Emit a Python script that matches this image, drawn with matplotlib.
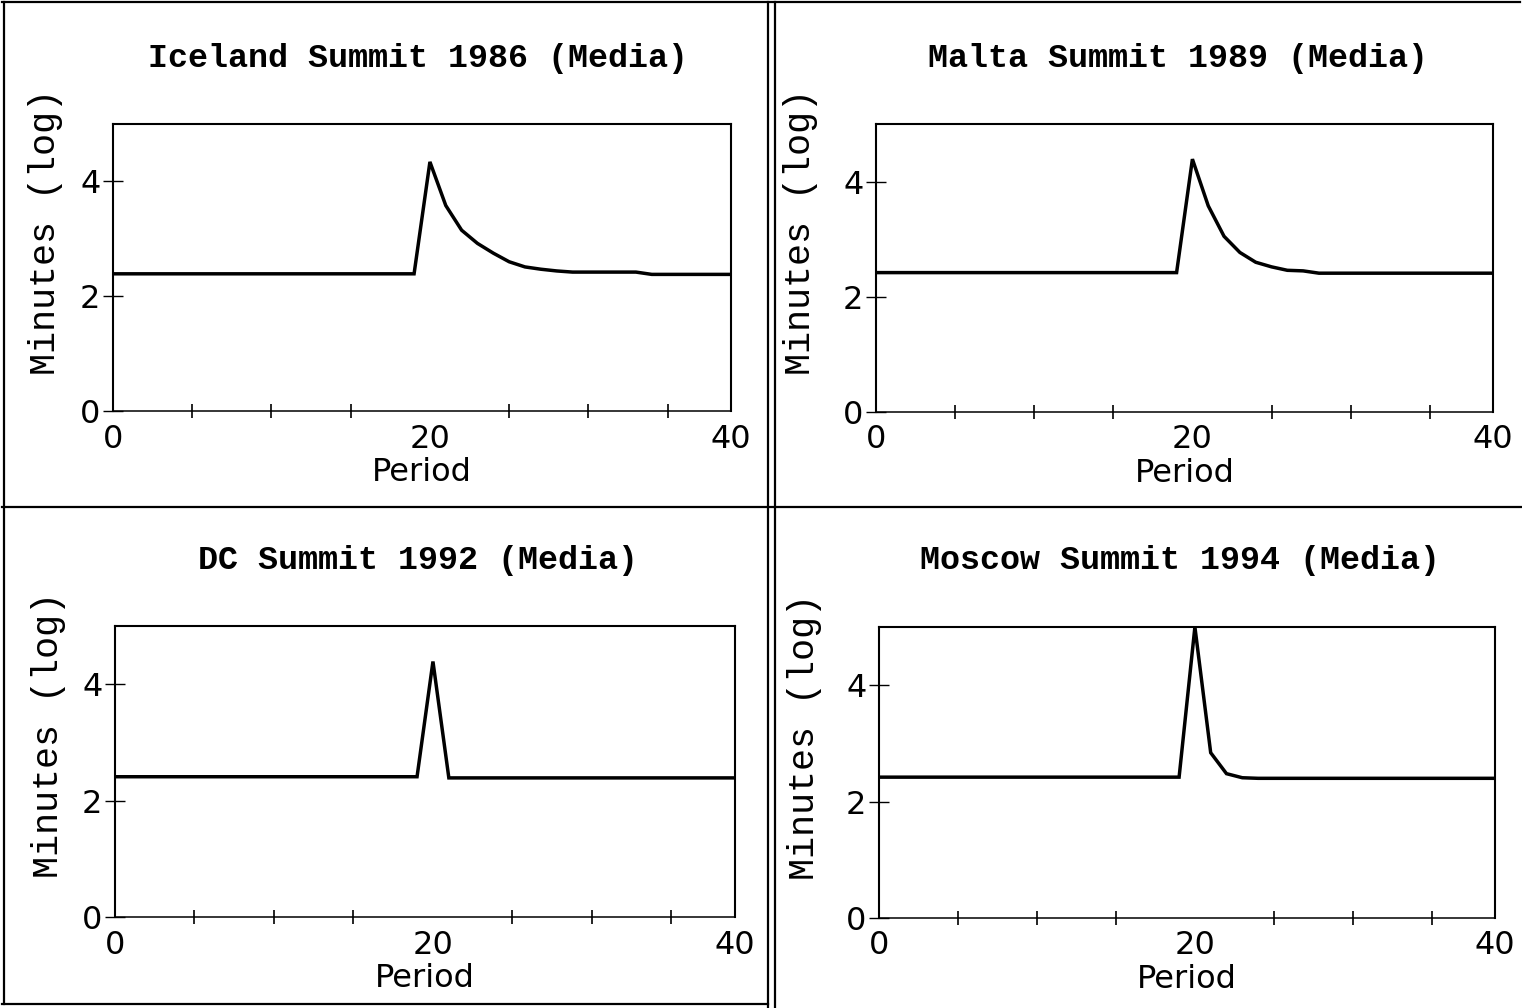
import numpy as np
import matplotlib.pyplot as plt
from matplotlib.lines import Line2D
from matplotlib.ticker import MultipleLocator

W, H = 1522, 1008

# log minutes of media coverage per period, one series per summit
periods = np.arange(0, 40)
iceland = [2.39] * 20 + [4.34, 3.58, 3.15, 2.92, 2.75, 2.60, 2.51, 2.47, 2.44, 2.42,
                         2.42, 2.42, 2.42, 2.42, 2.38, 2.38, 2.38, 2.38, 2.38, 2.38]
malta = [2.42] * 20 + [4.39, 3.58, 3.05, 2.77, 2.60, 2.52, 2.46, 2.45, 2.41, 2.41,
                       2.41, 2.41, 2.41, 2.41, 2.41, 2.41, 2.41, 2.41, 2.41, 2.41]
dc = [2.41] * 20 + [4.39] + [2.39] * 19
moscow = [2.42] * 20 + [5.0, 2.84, 2.48, 2.41] + [2.40] * 16

titles = ["Iceland Summit 1986 (Media)", "Malta Summit 1989 (Media)",
          "DC Summit 1992 (Media)", "Moscow Summit 1994 (Media)"]
series = [iceland, malta, dc, moscow]
xtick_pos = [0, 20, 39]
xtick_text = ["0", "20", "40"]
yticks = [0, 2, 4]

# panel boxes in pixels: left, right, top, bottom of the axes
boxes = [(113, 731, 124, 411), (876, 1493, 124, 412),
         (115, 735, 626, 917), (879, 1495, 627, 918)]
title_xy = [(418, 58), (1178, 58), (418, 560), (1180, 560)]
ylab_xy = [(46, 232), (801, 232), (49, 735), (804, 737)]

mono = ["Liberation Mono", "DejaVu Sans Mono"]
sans = ["DejaVu Sans"]

fig = plt.figure(figsize=(W / 100, H / 100), dpi=100)


def px(x, y):
    return x / W, 1 - y / H


for i in range(4):
    l, r, t, b = boxes[i]
    ax = fig.add_axes([l / W, 1 - b / H, (r - l) / W, (b - t) / H])
    ax.plot(periods, series[i], color="black", lw=2.5, solid_joinstyle="miter")
    ax.set_xlim(0, 39)
    ax.set_ylim(0, 5)
    for s in ax.spines.values():
        s.set_linewidth(1.5)
    ax.spines["bottom"].set_linewidth(1.1)

    ax.set_xticks(xtick_pos)
    ax.set_xticklabels(xtick_text, family=sans, fontsize=23)
    ax.xaxis.set_minor_locator(MultipleLocator(5))
    ax.tick_params(axis="x", which="major", length=0, pad=9)
    ax.tick_params(axis="x", which="minor", direction="inout", length=10, width=1.2)
    ax.set_yticks(yticks)
    ax.set_yticklabels([str(v) for v in yticks], family=sans, fontsize=23)
    ax.tick_params(axis="y", direction="inout", length=14, width=1.0, pad=2)
    ax.set_xlabel("Period", family=sans, fontsize=23, labelpad=2)

    fig.text(*px(*title_xy[i]), titles[i], family=mono, weight="bold",
             fontsize=24, ha="center", va="center")
    fig.text(*px(*ylab_xy[i]), "Minutes (log)", family=mono, fontsize=26.5,
             rotation=90, ha="center", va="center")

# frame lines around the four panels
frame = [((2, 1520), (2, 2)), ((4, 4), (2, 1004)), ((768, 768), (2, 1008)),
         ((775, 775), (2, 1008)), ((2, 1522), (507, 507)), ((2, 768), (1004, 1004))]
for xs, ys in frame:
    fig.add_artist(Line2D([x / W for x in xs], [1 - y / H for y in ys],
                          color="black", lw=1.6))

fig.savefig("out.png", dpi=100)
